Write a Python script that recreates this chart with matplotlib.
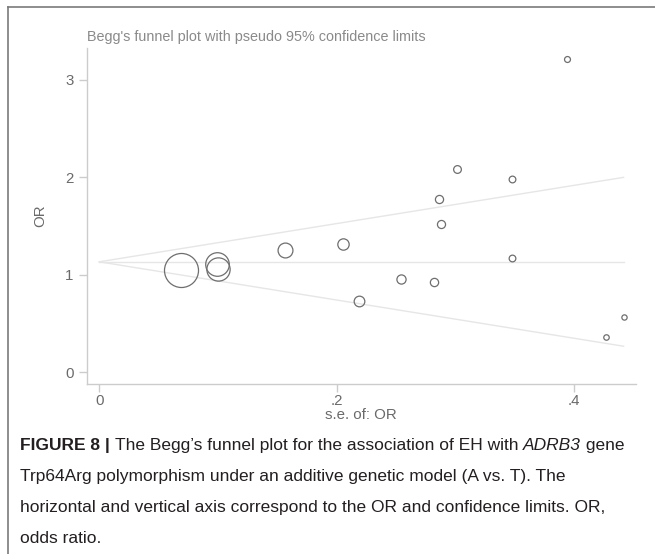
import numpy as np
import matplotlib
matplotlib.use("Agg")
import matplotlib.pyplot as plt
from matplotlib.lines import Line2D
from matplotlib.ticker import FixedLocator, FixedFormatter

plt.rcParams['font.family'] = ['Liberation Sans', 'DejaVu Sans']

# dados (erro padrao e OR de cada estudo)
se = [0.0686, 0.099, 0.1003, 0.157, 0.2055, 0.219, 0.254, 0.282, 0.286, 0.288,
      0.302, 0.348, 0.348, 0.394, 0.427, 0.442]
odds = [1.050, 1.111, 1.057, 1.250, 1.315, 0.735, 0.957, 0.926, 1.783, 1.517,
        2.087, 1.980, 1.172, 3.218, 0.366, 0.571]
pooled = 1.134
xticks = [0, 0.2, 0.4]
xticklabels = ['0', '.2', '.4']
yticks = [0, 1, 2, 3]

fig = plt.figure(figsize=(6.55, 5.54), dpi=100)
W, H = 655, 554

# moldura cinza da figura
fig.add_artist(Line2D([7.5 / W, 7.5 / W], [0, 1 - 7 / H], color='#7a7a7a', lw=1.2))
fig.add_artist(Line2D([7.5 / W, 1], [1 - 7 / H, 1 - 7 / H], color='#7a7a7a', lw=1.2))

ax = fig.add_axes([86.7 / W, 1 - 384 / H, (636 - 86.7) / W, (384 - 48) / H])

# linhas do funil (limites pseudo 95%)
s = np.array([0, max(se)])
ax.plot(s, pooled + 1.96 * s, color='#e6e6e6', lw=1)
ax.plot(s, pooled - 1.96 * s, color='#e6e6e6', lw=1)
ax.plot(s, [pooled, pooled], color='#e6e6e6', lw=1)

# circulos com tamanho proporcional a 1/se
for x, y in zip(se, odds):
    ax.plot(x, y, 'o', ms=1.68 / x, mfc='none', mec='#6e6e6e', mew=0.9)

ax.set_xlim(-0.0106, 0.4525)
ax.set_ylim(-0.12, 3.328)

ax.xaxis.set_major_locator(FixedLocator(xticks))
ax.xaxis.set_major_formatter(FixedFormatter(xticklabels))
ax.yaxis.set_major_locator(FixedLocator(yticks))

for sp in ['top', 'right']:
    ax.spines[sp].set_visible(False)
for sp in ['left', 'bottom']:
    ax.spines[sp].set_color('#cccccc')
    ax.spines[sp].set_linewidth(1)

ax.tick_params(axis='both', color='#cccccc', length=6, width=1,
               labelcolor='#6a6a6a', labelsize=10.8)
ax.tick_params(axis='y', pad=3.5)
ax.tick_params(axis='x', pad=1.5)

ax.set_xlabel('s.e. of: OR', color='#6a6a6a', fontsize=10.8, labelpad=0)
ax.set_ylabel('OR', color='#6a6a6a', fontsize=10.8, labelpad=13)

fig.text(87 / W, 1 - 41 / H, "Begg's funnel plot with pseudo 95% confidence limits",
         color='#8a8a8a', fontsize=10.4, ha='left', va='baseline')

# legenda da figura, montada em pedacos
cap_color = '#231f20'
cap_size = 12.5
lines = [
    [("FIGURE 8 | ", 'bold', 'normal'),
     ("The Begg\u2019s funnel plot for the association of EH with ", 'normal', 'normal'),
     ("ADRB3", 'normal', 'italic'),
     (" gene", 'normal', 'normal')],
    [("Trp64Arg polymorphism under an additive genetic model (A vs. T). The", 'normal', 'normal')],
    [("horizontal and vertical axis correspond to the OR and confidence limits. OR,", 'normal', 'normal')],
    [("odds ratio.", 'normal', 'normal')],
]
baselines = [450, 481, 512, 543]

fig.canvas.draw()
renderer = fig.canvas.get_renderer()
for parts, yb in zip(lines, baselines):
    xpos = 20
    for txt, wt, st in parts:
        t = fig.text(xpos / W, 1 - yb / H, txt, color=cap_color, fontsize=cap_size,
                     fontweight=wt, fontstyle=st, ha='left', va='baseline')
        bb = t.get_window_extent(renderer)
        xpos += bb.width

fig.savefig('out.png', dpi=100)
